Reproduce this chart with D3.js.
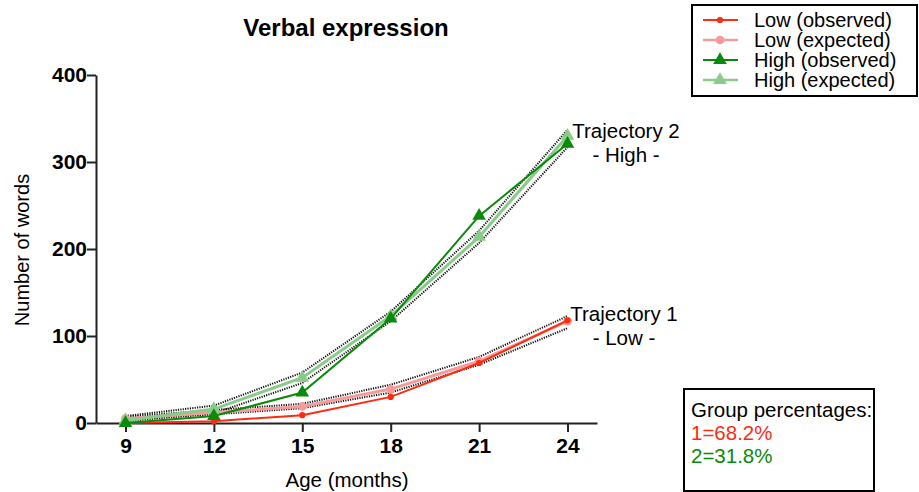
<!DOCTYPE html>
<html>
<head>
<meta charset="utf-8">
<script src="https://cdn.jsdelivr.net/npm/d3@7"></script>
<style>
  body { margin: 0; background: #fff; }
  text { font-family: "Liberation Sans", Arial, sans-serif; }
</style>
</head>
<body>
<div id="wrapper"></div>
<script>
const ages = [9, 12, 15, 18, 21, 24];
const lowObserved  = [0, 2, 9, 30, 69, 118];
const lowExpected  = [5, 12, 19, 39, 71, 117];
const lowUpper     = [7, 15, 22, 44, 76, 123];
const lowLower     = [4, 10, 17, 35, 67, 109];
const highObserved = [0, 8, 35, 120, 238, 321];
const highExpected = [3, 16, 52, 123, 214, 330];
const highUpper    = [8, 20, 58, 128, 221, 337];
const highLower    = [2, 11, 46, 117, 207, 317];
const yTicks = [0, 100, 200, 300, 400];
const legendLabels = ["Low (observed)", "Low (expected)", "High (observed)", "High (expected)"];
const groupPct = ["1=68.2%", "2=31.8%"];

const RED = "#ff2b0f", PINK = "#f79a9a", GREEN = "#0a8a0a", LGREEN = "#8acb8a";

const width = 919, height = 492;
const svg = d3.select("#wrapper").append("svg")
  .attr("width", width).attr("height", height);

const xScale = d3.scaleLinear().domain([8, 25]).range([96, 597]);
const yScale = d3.scaleLinear().domain([0, 400]).range([423, 75]);

// axes
const xAxis = d3.axisBottom(xScale).tickValues(ages).tickSize(9).tickSizeOuter(0);
const yAxis = d3.axisLeft(yScale).tickValues(yTicks).tickSize(9).tickSizeOuter(0);

const gx = svg.append("g").attr("transform", "translate(0,423)").call(xAxis);
const gy = svg.append("g").attr("transform", "translate(96,0)").call(yAxis);
[gx, gy].forEach(g => {
  g.select(".domain").attr("stroke", "#222").attr("stroke-width", 2);
  g.selectAll(".tick line").attr("stroke", "#222").attr("stroke-width", 2);
  g.selectAll(".tick text").attr("fill", "#000")
    .style("font-family", "'Liberation Sans', Arial, sans-serif")
    .style("font-size", "21px").style("font-weight", "bold");
});
gx.selectAll(".tick text").attr("dy", "1em").attr("y", 9);
gy.selectAll(".tick text").attr("x", -9);

// titles
svg.append("text").attr("x", 346).attr("y", 36).attr("text-anchor", "middle")
  .style("font-size", "24px").style("font-weight", "bold").text("Verbal expression");
svg.append("text").attr("x", 347).attr("y", 487).attr("text-anchor", "middle")
  .style("font-size", "20.5px").text("Age (months)");
svg.append("text").attr("transform", "translate(29,250) rotate(-90)").attr("text-anchor", "middle")
  .style("font-size", "20px").text("Number of words");

const line = vals => d3.line().x((d, i) => xScale(ages[i])).y(d => yScale(d))(vals);

// confidence bands (dotted)
[lowUpper, lowLower, highUpper, highLower].forEach(v => {
  svg.append("path").attr("d", line(v)).attr("fill", "none")
    .attr("stroke", "#111").attr("stroke-width", 2).attr("stroke-dasharray", "1.2,1.2");
});

const series = [
  { vals: lowExpected, color: PINK, w: 3, sym: d3.symbolCircle, size: 60 },
  { vals: highExpected, color: LGREEN, w: 3, sym: d3.symbolTriangle, size: 80 },
  { vals: lowObserved, color: RED, w: 2, sym: d3.symbolCircle, size: 30 },
  { vals: highObserved, color: GREEN, w: 2, sym: d3.symbolTriangle, size: 80 }
];

series.forEach(s => {
  svg.append("path").attr("d", line(s.vals)).attr("fill", "none")
    .attr("stroke", s.color).attr("stroke-width", s.w);
  svg.append("g").selectAll("path").data(s.vals).join("path")
    .attr("transform", (d, i) => `translate(${xScale(ages[i])},${yScale(d)})`)
    .attr("d", d3.symbol().type(s.sym).size(s.size))
    .attr("fill", s.color);
});

// trajectory labels
const tLabel = (x, y, lines) => {
  const t = svg.append("text").attr("text-anchor", "middle").style("font-size", "20.5px");
  lines.forEach((l, i) => t.append("tspan").attr("x", x).attr("y", y + i * 24).text(l));
};
tLabel(626, 138, ["Trajectory 2", "- High -"]);
tLabel(624, 321, ["Trajectory 1", "- Low -"]);

// legend
const legend = svg.append("g");
legend.append("rect").attr("x", 692).attr("y", 5).attr("width", 225).attr("height", 91)
  .attr("fill", "#fff").attr("stroke", "#000").attr("stroke-width", 2);
const legStyles = [series[2], series[0], series[3], series[1]];
legendLabels.forEach((lab, i) => {
  const y = 20 + i * 20;
  const s = legStyles[i];
  legend.append("line").attr("x1", 703).attr("x2", 738).attr("y1", y).attr("y2", y)
    .attr("stroke", s.color).attr("stroke-width", s.w === 3 ? 2.5 : 2);
  legend.append("path").attr("transform", `translate(720,${y})`)
    .attr("d", d3.symbol().type(s.sym).size(s.size)).attr("fill", s.color);
  legend.append("text").attr("x", 754).attr("y", y + 7).style("font-size", "20px").text(lab);
});

// group percentages
const gp = svg.append("g");
gp.append("rect").attr("x", 684).attr("y", 389).attr("width", 190).attr("height", 102)
  .attr("fill", "#fff").attr("stroke", "#000").attr("stroke-width", 2);
gp.append("text").attr("x", 691).attr("y", 417).style("font-size", "20.5px").text("Group percentages:");
gp.append("text").attr("x", 691).attr("y", 440).style("font-size", "20.5px").attr("fill", RED).text(groupPct[0]);
gp.append("text").attr("x", 691).attr("y", 463).style("font-size", "20.5px").attr("fill", GREEN).text(groupPct[1]);
</script>
</body>
</html>
